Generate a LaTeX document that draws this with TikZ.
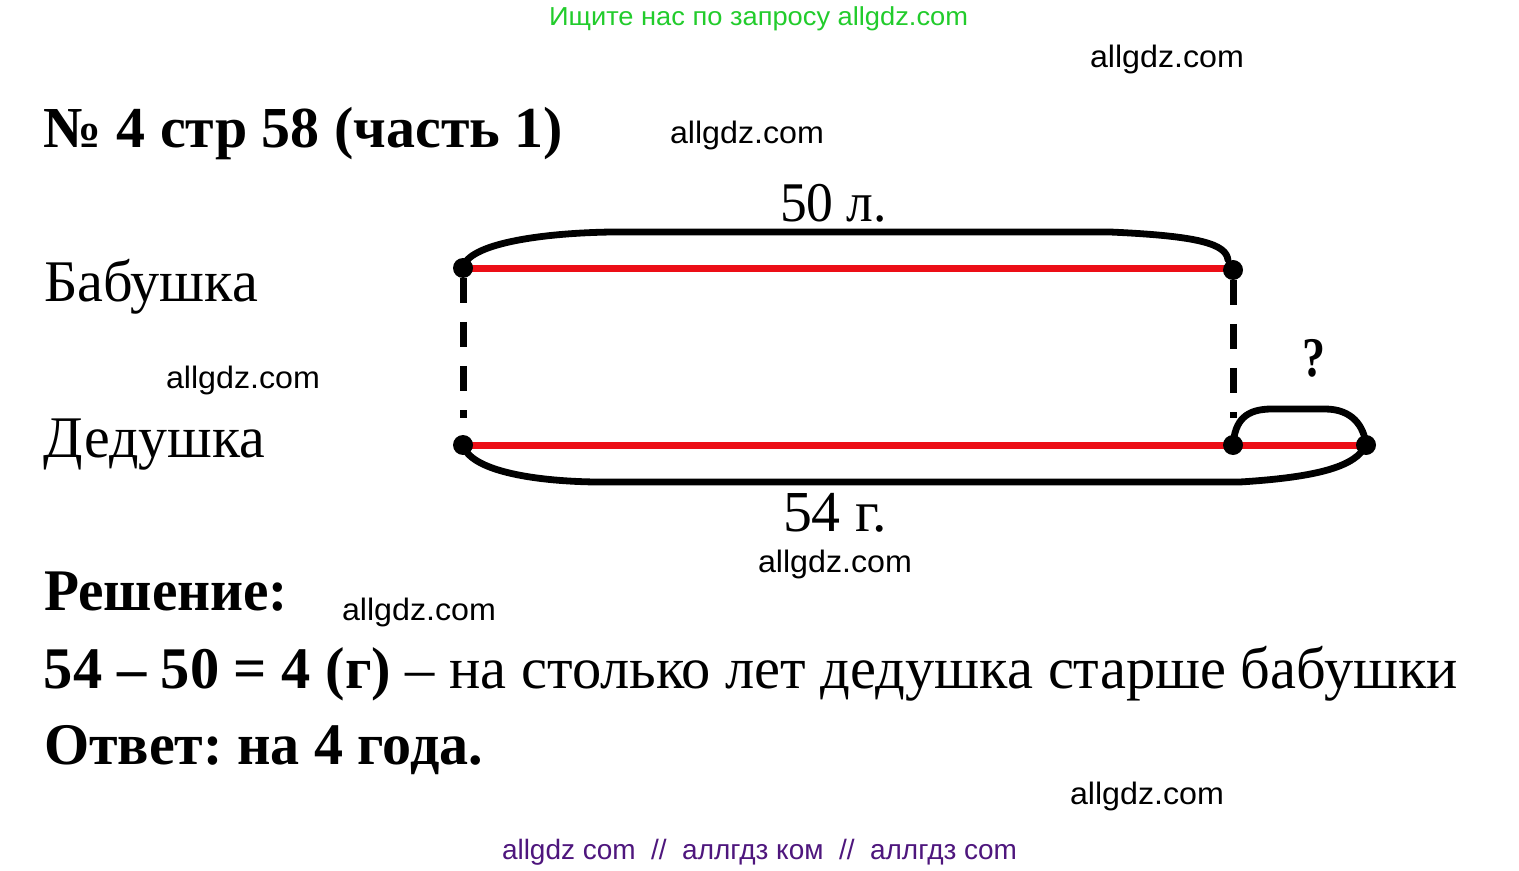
\documentclass[tikz,border=0pt]{standalone}
\usepackage{fontspec}
\usepackage{graphicx}
\setmainfont{Liberation Serif}
\newfontfamily\wmfont{Liberation Sans}
\definecolor{lnred}{RGB}{236,14,22}
\definecolor{wmgreen}{RGB}{34,204,44}
\definecolor{wmpurple}{RGB}{78,22,125}
\newcommand{\fitw}[2]{\resizebox{#1}{\height}{#2}}
\frenchspacing
\tikzset{
  txt/.style={inner sep=0pt, outer sep=0pt, anchor=base west},
  serif/.style={txt, font=\fontsize{29.5}{34}\selectfont},
  serifb/.style={txt, font=\fontsize{29.5}{34}\selectfont\bfseries},
  wmk/.style={txt, font=\wmfont\fontsize{15.5}{18}\selectfont},
  redline/.style={draw=lnred, line width=3.5pt},
  bracel/.style={draw=black, line width=3.4pt, line cap=round},
  dashline/.style={draw=black, line width=3.5pt, dash pattern=on 12.5pt off 9.5pt},
  dotnode/.style={circle, fill=black, inner sep=0pt, minimum size=10pt}
}
\begin{document}
\begin{tikzpicture}[x=0.5pt,y=-0.5pt]
\useasboundingbox (0,0) rectangle (1519,871);
\fill[white] (0,0) rectangle (1519,871);
% watermarks
\node[wmk, text=wmgreen, font=\wmfont\fontsize{13}{15}\selectfont] (wtop) at (549,26) {\fitw{209.5pt}{Ищите нас по запросу allgdz.com}};
\node[wmk] (w1) at (1090,68) {\fitw{77pt}{allgdz.com}};
\node[wmk] (w2) at (670,144) {\fitw{77pt}{allgdz.com}};
\node[wmk] (w3) at (166,388) {\fitw{77pt}{allgdz.com}};
\node[wmk] (w4) at (758,572) {\fitw{77pt}{allgdz.com}};
\node[wmk] (w5) at (342,620) {\fitw{77pt}{allgdz.com}};
\node[wmk] (w6) at (1070,804) {\fitw{77pt}{allgdz.com}};
\node[wmk, text=wmpurple, font=\wmfont\fontsize{14}{16}\selectfont] (wbot) at (502,859) {\fitw{257.5pt}{allgdz com\ \ //\ \ аллгдз ком\ \ //\ \ аллгдз com}};
% texts
\node[serifb, font=\fontsize{29}{34}\selectfont\bfseries] (title) at (44,148) {\fitw{259.5pt}{№ 4 стр 58 (часть 1)}};
\node[serif] (bab) at (44,302) {\fitw{107pt}{Бабушка}};
\node[serif] (ded) at (44,457) {\fitw{110.5pt}{Дедушка}};
\node[serif, font=\fontsize{28}{34}\selectfont] (l50) at (780,222) {\fitw{53.5pt}{50 л.}};
\node[serif, font=\fontsize{29}{34}\selectfont] (l54) at (783,531) {\fitw{52pt}{54 г.}};
\node[serifb, font=\fontsize{28}{34}\selectfont\bfseries] (q) at (1302,377) {\fitw{11.5pt}{?}};
\node[serifb] (sol) at (44,610) {\fitw{122pt}{Решение:}};
\node[serif] (eq) at (44,688) {\fitw{707pt}{\textbf{54 – 50 = 4 (г)} – на столько лет дедушка старше бабушки}};
\node[serifb] (ans) at (44,764) {\fitw{219.5pt}{Ответ: на 4 года.}};
% diagram points
\coordinate (A) at (463,268);
\coordinate (B) at (1233,270);
\coordinate (C) at (463,445);
\coordinate (D) at (1233,445);
\coordinate (E) at (1366,445);
\coordinate (Adash) at (463,278);
\coordinate (Cdash) at (463,418);
\coordinate (Bdash) at (1233,280);
\coordinate (Ddash) at (1233,418);
% red segments
\draw[redline] (463,269) -- (1233,269);
\draw[redline] (C) -- (E);
% dashed verticals
\draw[dashline] (Adash) -- (Cdash);
\draw[dashline] (Bdash) -- (Ddash);
% braces
\draw[bracel] (A) .. controls (467,244) and (540,233) .. (612,232) -- (1110,232)
  .. controls (1200,236) and (1226,244) .. (1228,260);
\draw[bracel] (C) .. controls (470,470) and (530,481) .. (595,482) -- (1240,482)
  .. controls (1320,477) and (1356,466) .. (E);
\draw[bracel] (D) .. controls (1235,420) and (1246,409) .. (1272,409) -- (1325,409)
  .. controls (1352,409) and (1364,426) .. (E);
% dots
\node[dotnode] (dA) at (A) {};
\node[dotnode] (dB) at (B) {};
\node[dotnode] (dC) at (C) {};
\node[dotnode] (dD) at (D) {};
\node[dotnode] (dE) at (E) {};
\end{tikzpicture}
\end{document}
